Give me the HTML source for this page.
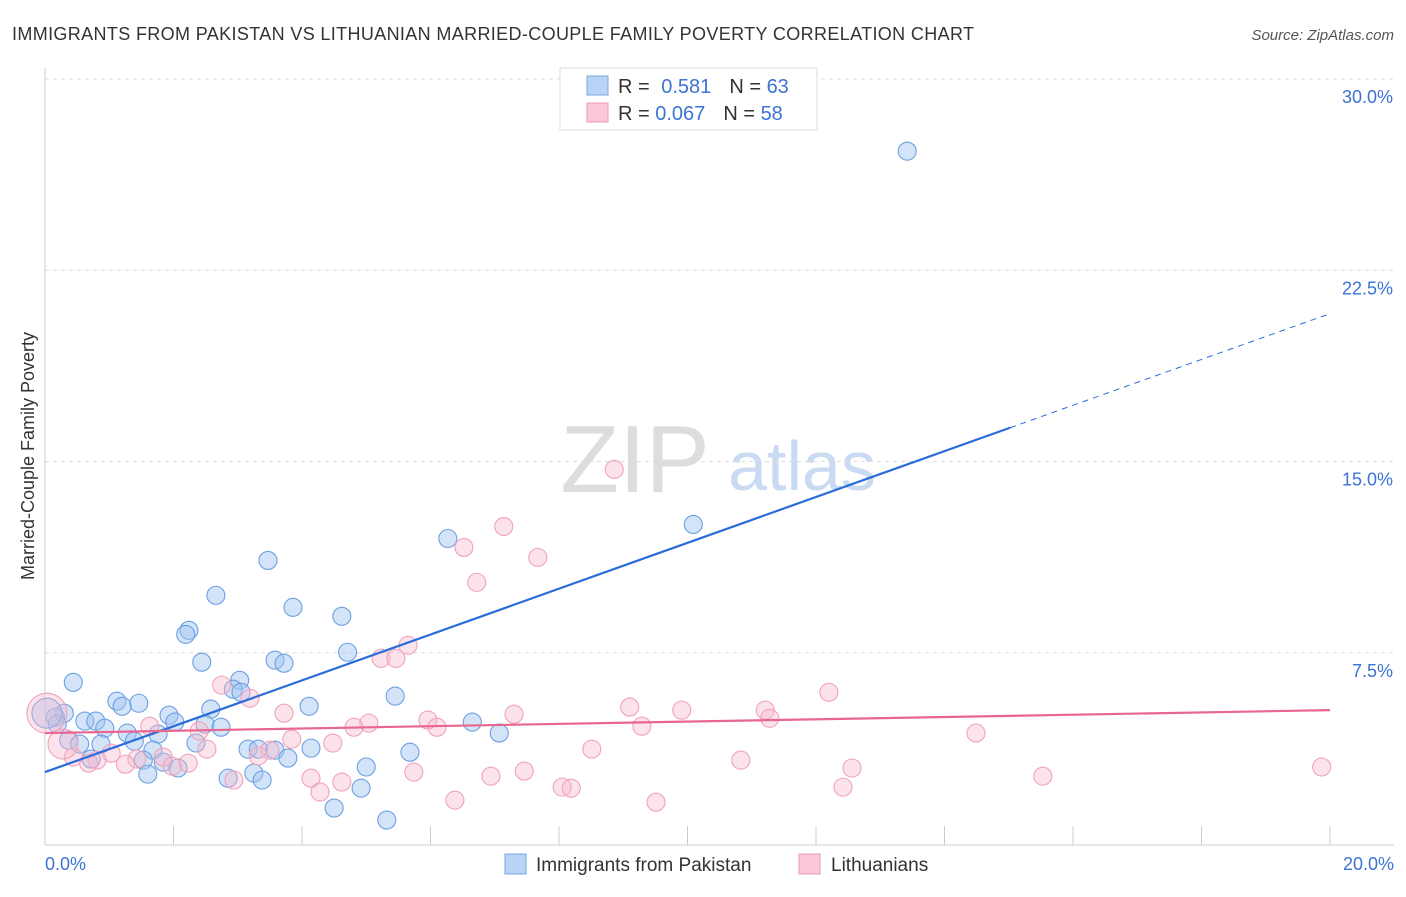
<!DOCTYPE html>
<html><head><meta charset="utf-8"><style>
body{margin:0;background:#fff;font-family:"Liberation Sans",sans-serif}
svg text{font-family:"Liberation Sans",sans-serif}
</style></head><body>
<svg id="chart" width="1406" height="892">
<text x="12" y="40" font-size="18" fill="#333" textLength="962">IMMIGRANTS FROM PAKISTAN VS LITHUANIAN MARRIED-COUPLE FAMILY POVERTY CORRELATION CHART</text>
<text x="1394" y="40" font-size="15" fill="#555" font-style="italic" text-anchor="end">Source: ZipAtlas.com</text>
<text x="34" y="456" font-size="18" fill="#333" text-anchor="middle" transform="rotate(-90 34 456)">Married-Couple Family Poverty</text>
<g>
<text x="635" y="492" font-size="96" fill="#ddd" font-family="Liberation Serif" text-anchor="middle">ZIP</text>
<text x="802" y="490" font-size="70" fill="#c9daf2" text-anchor="middle">atlas</text>
</g>
<g id="grid"></g><g id="axes"></g><g id="marks"></g><g id="lines"></g>
<g>
<rect x="560" y="68" width="257" height="62" fill="#fff" stroke="#ddd"/>
<rect x="587" y="76" width="21" height="19" fill="#b8d3f5" stroke="#7aa7e0"/>
<rect x="587" y="103" width="21" height="19" fill="#fbc8d7" stroke="#ee9ab5"/>
<text x="618" y="93" font-size="20" fill="#333">R = <tspan fill="#3b73d6" dx="6">0.581</tspan><tspan dx="18" fill="#333">N = </tspan><tspan fill="#3b73d6">63</tspan></text>
<text x="618" y="120" font-size="20" fill="#333">R = <tspan fill="#3b73d6">0.067</tspan><tspan dx="18" fill="#333">N = </tspan><tspan fill="#3b73d6">58</tspan></text>
</g>
<g>
<rect x="505" y="854" width="21" height="20" fill="#b8d3f5" stroke="#7aa7e0"/>
<text x="536" y="871" font-size="19" fill="#333">Immigrants from Pakistan</text>
<rect x="799" y="854" width="21" height="20" fill="#fbc8d7" stroke="#ee9ab5"/>
<text x="831" y="871" font-size="19" fill="#333">Lithuanians</text>
</g>
</svg>
<script>
const xTicks=[0,2,4,6,8,10,12,14,16,18,20];
const yTicks=[7.5,15,22.5,30];
const yTickLabels=["7.5%","15.0%","22.5%","30.0%"];
const xEndLabels=["0.0%","20.0%"];
const blueX=[13.42,6.27,10.09,3.47,2.66,3.86,4.62,2.24,2.19,4.71,2.44,3.58,3.72,0.44,3.03,2.93,3.05,5.45,1.12,1.46,1.20,4.11,2.58,0.30,0.16,1.93,0.19,0.62,0.79,2.02,0.93,2.49,2.74,6.65,1.28,1.76,7.07,0.37,0.54,0.87,1.39,2.35,1.68,3.16,3.32,3.58,4.14,5.68,0.72,1.53,1.84,3.78,2.07,5.00,2.85,3.25,1.60,3.38,4.92,4.50,5.32,0.03];
const blueY=[27.17,11.98,12.53,11.12,9.75,9.28,8.93,8.38,8.22,7.52,7.13,7.21,7.09,6.34,6.42,6.07,5.95,5.80,5.60,5.52,5.40,5.40,5.29,5.13,4.97,5.05,4.70,4.82,4.82,4.78,4.54,4.70,4.58,4.78,4.35,4.31,4.35,4.07,3.92,3.92,4.03,3.96,3.68,3.72,3.72,3.68,3.76,3.60,3.33,3.29,3.21,3.37,2.98,3.02,2.58,2.78,2.74,2.51,2.19,1.41,0.94,5.13];
const pinkX=[8.86,7.14,6.52,7.67,6.72,5.65,5.23,5.46,12.20,2.75,3.19,9.10,9.91,11.21,11.28,3.72,7.30,5.96,6.10,5.04,4.81,1.63,9.29,2.40,14.49,3.84,4.48,2.52,8.51,3.50,1.03,1.84,1.43,0.44,0.81,1.25,3.32,2.23,10.83,1.98,0.68,12.56,19.87,5.74,7.46,6.94,15.53,4.14,4.62,2.94,8.05,8.19,12.42,4.28,6.38,9.51,0.03,0.28];
const pinkY=[14.69,12.45,11.63,11.24,10.26,7.79,7.28,7.28,5.95,6.23,5.72,5.37,5.25,5.25,4.93,5.13,5.09,4.86,4.58,4.74,4.58,4.62,4.62,4.43,4.35,4.11,3.96,3.72,3.72,3.68,3.56,3.41,3.33,3.41,3.29,3.13,3.45,3.17,3.29,3.05,3.17,2.98,3.02,2.82,2.86,2.66,2.66,2.58,2.43,2.51,2.23,2.19,2.23,2.04,1.72,1.64,5.13,3.92];
const blueLine=[2.82,0.899];
const pinkLine=[4.35,0.045];
const blueSolidEnd=15.02;
const NS="http://www.w3.org/2000/svg";
const X0=45,X1=1330,Y0=844,Y30=79;
const sx=v=>X0+(v/20)*(X1-X0);
const sy=v=>Y0-(v/30)*(Y0-Y30);
function mk(tag,attrs,parent){const e=document.createElementNS(NS,tag);for(const k in attrs)e.setAttribute(k,attrs[k]);document.getElementById(parent).appendChild(e);return e;}
yTicks.forEach((t,i)=>{
 const g=mk('line',{x1:X0,x2:1394,y1:sy(t),y2:sy(t),stroke:'#ddd','stroke-dasharray':'4,4'},'grid');
 
 
 const l=mk('text',{x:1393,y:sy(t)+24,'font-size':18,fill:'#3b73d6','text-anchor':'end'},'axes');
 l.textContent=yTickLabels[i];
 
 
});
const ax=mk('line',{x1:X0,x2:X0,y1:68,y2:845,stroke:'#ccc'},'axes');


const bx=mk('line',{x1:X0,x2:1394,y1:845,y2:845,stroke:'#ccc'},'axes');


xTicks.forEach(t=>{
 const k=mk('line',{x1:sx(t),x2:sx(t),y1:826,y2:845,stroke:'#ccc'},'axes');
 
 
});
[[0,'start',45],[20,'end',1394]].forEach((d,i)=>{
 const l=mk('text',{x:d[2],y:870,'font-size':18,fill:'#3b73d6','text-anchor':d[1]},'axes');
 l.textContent=xEndLabels[i];
 
 
});
blueX.forEach((v,i)=>{
 const r=(i===blueX.length-1)?15:9;
 const c=mk('circle',{cx:sx(v),cy:sy(blueY[i]),r:r,fill:'rgba(160,196,240,0.45)',stroke:'#6c9fe2','stroke-width':1.1},'marks');
 
 
});
pinkX.forEach((v,i)=>{
 const r=(i===pinkX.length-2)?20:(i===pinkX.length-1?15:9);
 const c=mk('circle',{cx:sx(v),cy:sy(pinkY[i]),r:r,fill:'rgba(248,186,206,0.4)',stroke:'#f0a2bb','stroke-width':1.1},'marks');
 
 
});
const f=(p,x)=>p[0]+p[1]*x;
const b1=mk('line',{x1:sx(0),y1:sy(f(blueLine,0)),x2:sx(blueSolidEnd),y2:sy(f(blueLine,blueSolidEnd)),stroke:'#2a6dd9','stroke-width':2.2},'lines');


const b2=mk('line',{x1:sx(blueSolidEnd),y1:sy(f(blueLine,blueSolidEnd)),x2:sx(20),y2:sy(f(blueLine,20)),stroke:'#2a6dd9','stroke-width':1,'stroke-dasharray':'6,5'},'lines');


const p1=mk('line',{x1:sx(0),y1:sy(f(pinkLine,0)),x2:sx(20),y2:sy(f(pinkLine,20)),stroke:'#e8668f','stroke-width':2.2},'lines');


</script>
</body></html>
